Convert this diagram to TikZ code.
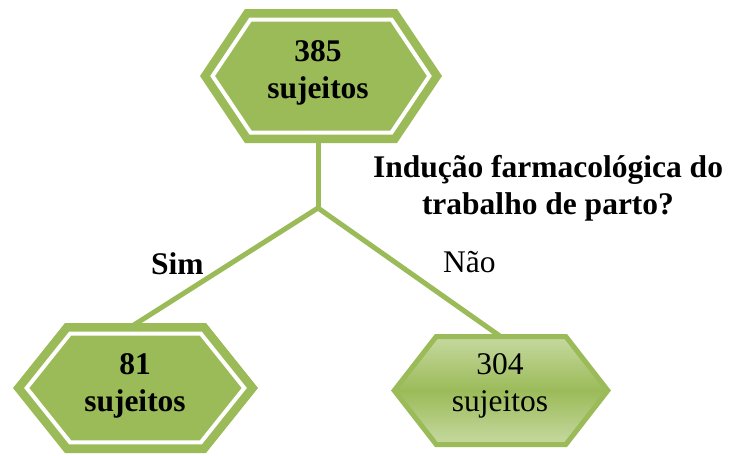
\documentclass[tikz,border=0pt]{standalone}
\usepackage{fontspec}
\setmainfont{Liberation Serif}
\definecolor{olivegreen}{HTML}{9BBB59}
\definecolor{olivelight}{HTML}{C6D9A0}
\newcommand\hexpath[5]{({#1-#3},{#2}) -- ({#1-#3+#5},{#2-#4}) -- ({#1+#3-#5},{#2-#4}) -- ({#1+#3},{#2}) -- ({#1+#3-#5},{#2+#4}) -- ({#1-#3+#5},{#2+#4}) -- cycle}
\begin{document}
\begin{tikzpicture}[x=1pt,y=-1pt,
  connector/.style={draw=olivegreen,line width=5pt,line cap=butt},
  hexouter/.style={fill=olivegreen},
  hexwhite/.style={draw=white,line width=4pt,line join=miter},
  hexplain/.style={draw=olivegreen,line width=5pt,line join=miter,
     top color=olivelight,bottom color=olivelight,middle color=olivegreen},
  lbl/.style={inner sep=0pt,align=center,font=\fontsize{31.5}{37}\selectfont}
]
\useasboundingbox (0,0) rectangle (730,455);
% connectors
\coordinate (topexit) at (318,140);
\coordinate (junction) at (318,208);
\coordinate (leftin) at (137,323);
\coordinate (rightin) at (497,334);
\draw[connector] (topexit) -- (junction);
\draw[connector,shorten >=-8pt] (junction) -- (leftin);
\draw[connector,shorten >=-8pt] (junction) -- (rightin);
\fill[olivegreen] (junction) circle (2.5pt);
% top hexagon
\fill[hexouter] \hexpath{321}{76}{121}{67}{45};
\draw[hexwhite] \hexpath{321}{76}{108.4}{56.5}{37.9};
% bottom left hexagon
\fill[hexouter] \hexpath{135.5}{388}{122.5}{65}{52};
\draw[hexwhite] \hexpath{135.5}{388}{108.8}{54.3}{43.4};
% bottom right hexagon
\path[hexplain] \hexpath{501}{390.5}{106.8}{54}{42};
% texts
\node[lbl] (top) at (318,72.9) {\textbf{385}\\\textbf{sujeitos}};
\node[lbl] (left) at (135,385.4) {\textbf{81}\\\textbf{sujeitos}};
\node[lbl] (right) at (500,385.7) {304\\sujeitos};
\node[lbl] (question) at (548,188.6) {\textbf{Indução farmacológica do}\\\textbf{trabalho de parto?}};
\node[lbl,anchor=base west] (sim) at (151,274) {\textbf{Sim}};
\node[lbl,anchor=base west] (nao) at (443,272) {Não};
\end{tikzpicture}
\end{document}
